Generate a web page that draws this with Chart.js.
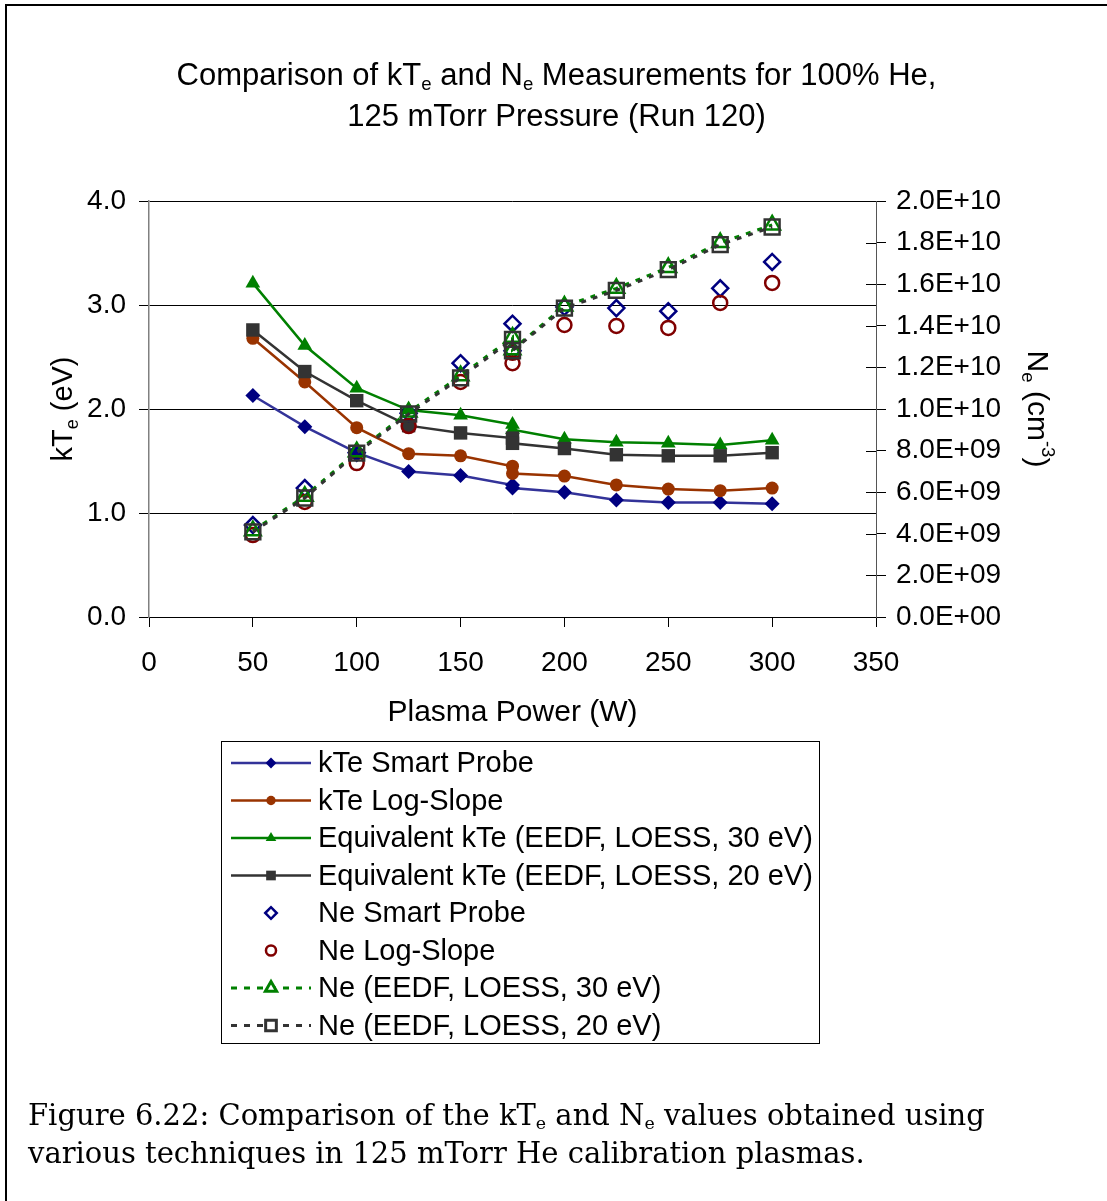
<!DOCTYPE html>
<html>
<head>
<meta charset="utf-8">
<script src="https://cdn.jsdelivr.net/npm/chart.js@4.4.1/dist/chart.umd.min.js"></script>
<style>
  body { margin: 0; background: #fff; }
  #page { position: relative; width: 1107px; height: 1201px; overflow: hidden; }
  #frame { position: absolute; left: 5px; top: 4px; width: 1200px; height: 1400px; border-left: 2px solid #000; border-top: 2px solid #000; }
  #chart { position: absolute; left: 0; top: 0; }
  #title { position: absolute; left: 3px; width: 1107px; top: 54px; text-align: center;
           font: 31px "Liberation Sans", Arial, sans-serif; line-height: 41px; color: #000; }
  #caption { position: absolute; left: 28px; top: 1096px; font: 29px "DejaVu Serif", serif; line-height: 38px; color: #000; }
  sub { font-size: 0.6em; vertical-align: -0.25em; line-height: 0; }
</style>
</head>
<body>
<div id="page">
  <div id="frame"></div>
  <canvas id="chart" width="1107" height="1201"></canvas>
  <div id="title">Comparison of kT<sub>e</sub> and N<sub>e</sub> Measurements for 100% He,<br>125 mTorr Pressure (Run 120)</div>
  <div id="caption">Figure 6.22: Comparison of the kT<sub>e</sub> and N<sub>e</sub> values obtained using<br>various techniques in 125 mTorr He calibration plasmas.</div>
</div>
<script>
// plasma power (W), 175 W was measured twice
var power = [50, 75, 100, 125, 150, 175, 175, 200, 225, 250, 275, 300];

// kTe (eV), left axis
var kteSmart    = [2.13, 1.83, 1.58, 1.40, 1.36, 1.27, 1.24, 1.20, 1.125, 1.10, 1.10, 1.09];
var kteLogSlope = [2.68, 2.26, 1.82, 1.57, 1.55, 1.45, 1.38, 1.355, 1.27, 1.23, 1.215, 1.24];
var kteEedf30   = [3.21, 2.61, 2.20, 1.99, 1.94, 1.85, 1.80, 1.71, 1.68, 1.67, 1.655, 1.70];
var kteEedf20   = [2.76, 2.36, 2.08, 1.84, 1.77, 1.72, 1.67, 1.62, 1.56, 1.55, 1.55, 1.58];

// Ne (cm-3), right axis
var neSmart    = [4.42e9, 6.2e9, 7.9e9, 9.8e9, 12.2e9, 14.1e9, 12.8e9, 14.9e9, 14.85e9, 14.7e9, 15.8e9, 17.07e9];
var neLogSlope = [3.94e9, 5.53e9, 7.4e9, 9.18e9, 11.3e9, 12.2e9, 12.7e9, 14.04e9, 13.99e9, 13.9e9, 15.1e9, 16.06e9];
var neEedf30   = [4.15e9, 5.8e9, 7.95e9, 9.85e9, 11.6e9, 13.45e9, 12.85e9, 14.95e9, 15.8e9, 16.8e9, 18.0e9, 18.85e9];
var neEedf20   = [4.09e9, 5.72e9, 7.88e9, 9.76e9, 11.5e9, 13.35e9, 12.8e9, 14.85e9, 15.7e9, 16.7e9, 17.9e9, 18.75e9];

// axis ticks
var kteTicks = [0, 1, 2, 3, 4];
var powerMin = 0, powerMax = 350, powerStep = 50;
var neMax = 2e10, neStep = 2e9;

var FONT = '"Liberation Sans", Arial, sans-serif';

function pts(ys) {
  return power.map(function (x, i) { return { x: x, y: ys[i] }; });
}

function line(label, ys, color, style, r) {
  return { label: label, data: pts(ys), yAxisID: 'y', showLine: true,
    borderColor: color, backgroundColor: color, borderWidth: 2.5,
    pointStyle: style, pointRadius: r, pointBorderWidth: 0,
    pointBackgroundColor: color, hollow: false };
}

function dots(label, ys, color, style, r, dashed) {
  return { label: label, data: pts(ys), yAxisID: 'y2', showLine: !!dashed,
    borderColor: color, backgroundColor: 'rgba(0,0,0,0)', borderWidth: dashed ? 3 : 0,
    borderDash: dashed ? [5, 7] : [], pointStyle: style, pointRadius: r, pointBorderWidth: 2.5,
    pointBorderColor: color, pointBackgroundColor: 'rgba(0,0,0,0)', hollow: true };
}

var datasets = [
  line('kTe Smart Probe', kteSmart, '#000080', 'rectRot', 7.5),
  line('kTe Log-Slope', kteLogSlope, '#993300', 'circle', 6.5),
  line('Equivalent kTe (EEDF, LOESS, 30 eV)', kteEedf30, '#008000', 'triangle', 8.5),
  line('Equivalent kTe (EEDF, LOESS, 20 eV)', kteEedf20, '#333333', 'rect', 9.5),
  dots('Ne Smart Probe', neSmart, '#000080', 'rectRot', 8, false),
  dots('Ne Log-Slope', neLogSlope, '#800000', 'circle', 7, false),
  dots('Ne (EEDF, LOESS, 30 eV)', neEedf30, '#008000', 'triangle', 9, true),
  dots('Ne (EEDF, LOESS, 20 eV)', neEedf20, '#333333', 'rect', 10.5, true)
];
datasets[0].borderColor = '#333399';
// later series on top
datasets.forEach(function (d, i) { d.order = datasets.length - 1 - i; });

function neLabel(v) {
  var s = v.toExponential(1).toUpperCase().split('E');
  var e = parseInt(s[1], 10);
  return s[0] + 'E' + (e < 0 ? '-' : '+') + (Math.abs(e) < 10 ? '0' : '') + Math.abs(e);
}

// draws text with subscript / superscript parts, centred on (0,0)
function richText(ctx, parts, size) {
  var total = 0;
  parts.forEach(function (p) {
    ctx.font = (p[1] ? size * 0.62 : size) + 'px ' + FONT;
    p.w = ctx.measureText(p[0]).width;
    total += p.w;
  });
  var x = -total / 2;
  ctx.textAlign = 'left';
  ctx.textBaseline = 'middle';
  parts.forEach(function (p) {
    ctx.font = (p[1] ? size * 0.62 : size) + 'px ' + FONT;
    var dy = p[1] === 1 ? size * 0.3 : (p[1] === 2 ? -size * 0.38 : 0);
    ctx.fillText(p[0], x, dy);
    x += p.w;
  });
}

var extras = {
  id: 'extras',
  afterDraw: function (chart) {
    var ctx = chart.ctx;
    var a = chart.chartArea;
    var y2 = chart.scales.y2;
    ctx.save();

    // right axis ticks cross the axis
    ctx.strokeStyle = '#000';
    ctx.lineWidth = 1;
    y2.ticks.forEach(function (t) {
      var py = Math.round(y2.getPixelForValue(t.value)) + 0.5;
      ctx.beginPath();
      ctx.moveTo(a.right - 10, py);
      ctx.lineTo(a.right, py);
      ctx.stroke();
    });

    // axis titles
    ctx.fillStyle = '#000';
    ctx.save();
    ctx.translate(64, (a.top + a.bottom) / 2);
    ctx.rotate(-Math.PI / 2);
    richText(ctx, [['kT', 0], ['e', 1], [' (eV)', 0]], 29);
    ctx.restore();

    ctx.save();
    ctx.translate(1036, (a.top + a.bottom) / 2);
    ctx.rotate(Math.PI / 2);
    richText(ctx, [['N', 0], ['e', 1], [' (cm', 0], ['-3', 2], [')', 0]], 30);
    ctx.restore();

    ctx.save();
    ctx.translate((a.left + a.right) / 2, 713);
    richText(ctx, [['Plasma Power (W)', 0]], 30);
    ctx.restore();

    // legend box
    var lx = 221, ly = 741, lw = 598, lh = 302;
    ctx.strokeStyle = '#000';
    ctx.lineWidth = 1;
    ctx.strokeRect(lx + 0.5, ly + 0.5, lw, lh);
    chart.data.datasets.forEach(function (d, i) {
      var cy = 763 + i * 37.5;
      if (d.showLine) {
        ctx.strokeStyle = d.borderColor;
        ctx.lineWidth = d.hollow ? 3 : 2.5;
        ctx.setLineDash(d.borderDash && d.borderDash.length ? [6, 7] : []);
        ctx.beginPath();
        ctx.moveTo(231, cy);
        ctx.lineTo(311, cy);
        ctx.stroke();
        ctx.setLineDash([]);
      }
      ctx.fillStyle = d.pointBackgroundColor;
      ctx.strokeStyle = d.hollow ? d.pointBorderColor : d.borderColor;
      if (d.hollow) ctx.fillStyle = '#fff';
      Chart.helpers.drawPoint(ctx, {
        pointStyle: d.pointStyle, radius: d.pointRadius * 0.72,
        borderWidth: d.hollow ? 2.5 : 0, rotation: 0
      }, 271, cy);
      ctx.fillStyle = '#000';
      ctx.font = '29px ' + FONT;
      ctx.textAlign = 'left';
      ctx.textBaseline = 'middle';
      ctx.fillText(d.label, 318, cy + 1);
    });
    ctx.restore();
  }
};

new Chart(document.getElementById('chart'), {
  type: 'scatter',
  data: { datasets: datasets },
  options: {
    responsive: false,
    animation: false,
    layout: { padding: { left: 49, right: 81, top: 201, bottom: 504 } },
    plugins: { legend: { display: false }, tooltip: { enabled: false }, title: { display: false } },
    scales: {
      x: {
        type: 'linear', position: 'bottom', min: powerMin, max: powerMax,
        afterFit: function (s) { s.height = 80; },
        ticks: { stepSize: powerStep, color: '#000', padding: 19, maxRotation: 0,
                 font: { family: FONT, size: 28 } },
        grid: { drawOnChartArea: false, drawTicks: true, tickLength: 10, color: '#000' },
        border: { color: '#000', width: 1 }
      },
      y: {
        type: 'linear', position: 'left', min: kteTicks[0], max: kteTicks[kteTicks.length - 1],
        afterFit: function (s) { s.width = 100; },
        afterBuildTicks: function (s) { s.ticks = kteTicks.map(function (v) { return { value: v }; }); },
        ticks: { color: '#000', padding: 13, font: { family: FONT, size: 28 },
                 callback: function (v) { return v.toFixed(1); } },
        grid: { color: '#000', lineWidth: 1, tickLength: 10 },
        border: { color: '#808080', width: 1.5 }
      },
      y2: {
        type: 'linear', position: 'right', min: 0, max: neMax,
        afterFit: function (s) { s.width = 150; },
        ticks: { stepSize: neStep, color: '#000', padding: 10, font: { family: FONT, size: 28 },
                 callback: function (v) { return neLabel(v); } },
        grid: { drawOnChartArea: false, tickLength: 10, color: '#000' },
        border: { color: '#555', width: 1 }
      }
    }
  },
  plugins: [extras]
});
</script>
</body>
</html>
